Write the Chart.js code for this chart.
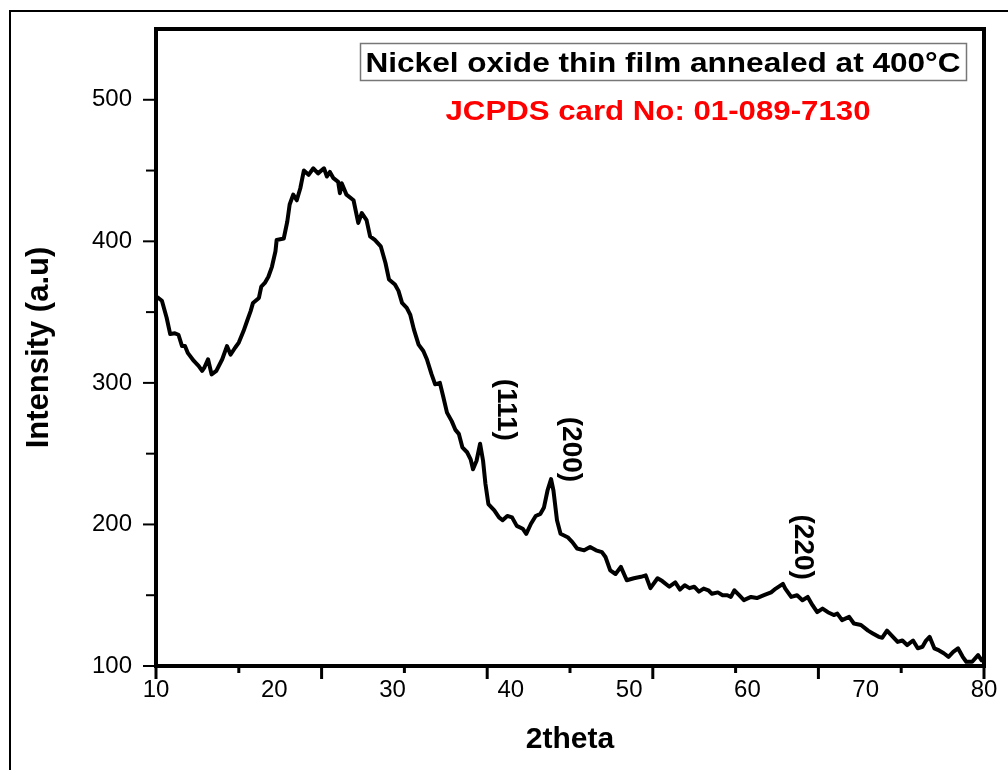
<!DOCTYPE html>
<html>
<head>
<meta charset="utf-8">
<title>Nickel oxide thin film XRD</title>
<script src="https://cdn.jsdelivr.net/npm/chart.js@4.4.1/dist/chart.umd.min.js"></script>
<style>
  html, body { margin: 0; padding: 0; background: #fff; }
  #wrap { width: 1008px; height: 770px; }
</style>
</head>
<body>
<div id="wrap"><canvas id="xrdChart" width="1008" height="770"></canvas></div>
<script>
// XRD pattern
const twoTheta = [
  10.0, 10.2, 10.5, 10.9, 11.2, 11.6, 11.9, 12.2, 12.45, 12.7, 13.2, 13.6, 13.9, 14.1, 14.4, 14.7,
  15.1, 15.6, 16.0, 16.3, 16.7, 17.0, 17.4, 17.7, 18.0, 18.2, 18.7, 18.9, 19.2, 19.5, 19.8, 20.1,
  20.2, 20.8, 21.1, 21.3, 21.6, 21.9, 22.2, 22.5, 22.9, 23.3, 23.7, 24.2, 24.45, 24.7, 25.0, 25.4,
  25.55, 25.7, 26.1, 26.7, 27.1, 27.4, 27.8, 28.1, 28.5, 29.0, 29.4, 29.7, 30.2, 30.5, 30.8, 31.2,
  31.5, 31.8, 32.2, 32.6, 32.9, 33.3, 33.6, 34.0, 34.3, 34.6, 35.0, 35.3, 35.6, 35.9, 36.3, 36.6,
  36.8, 37.1, 37.4, 37.65, 37.85, 38.1, 38.6, 39.0, 39.3, 39.7, 40.1, 40.5, 41.0, 41.3, 41.7, 42.1,
  42.5, 42.8, 43.1, 43.4, 43.6, 43.9, 44.2, 44.8, 45.2, 45.6, 46.2, 46.7, 47.2, 47.7, 48.0, 48.4,
  48.85, 49.3, 49.8, 50.4, 51.0, 51.4, 51.8, 52.4, 52.8, 53.4, 53.9, 54.3, 54.7, 55.1, 55.5, 55.9,
  56.3, 56.7, 57.0, 57.5, 57.9, 58.3, 58.6, 58.9, 59.3, 59.7, 60.3, 60.8, 61.4, 62.0, 62.4, 63.0,
  63.2, 63.7, 64.2, 64.65, 65.1, 65.5, 65.9, 66.35, 66.8, 67.3, 67.6, 68.0, 68.6, 69.0, 69.6, 70.2,
  70.6, 71.1, 71.4, 71.8, 72.3, 72.7, 73.1, 73.5, 74.0, 74.4, 74.8, 75.1, 75.4, 75.8, 76.2, 76.6,
  77.0, 77.4, 77.8, 78.2, 78.5, 79.0, 79.5, 79.8, 80.0
]
const intensity = [
  361, 360, 358, 346, 334.5, 335, 334, 326, 326, 321, 315.5, 312, 308.5, 311, 316.7, 306,
  308.5, 316.7, 326, 320, 325, 328.5, 336.6, 343.7, 350.7, 356.5, 360, 368, 370.6, 375, 382, 393,
  401, 402, 414, 426, 433, 429, 437.5, 450, 447, 451.6, 448, 451.6, 445.8, 449, 444.6, 442,
  434, 441, 433, 429, 413, 420, 415, 403.5, 401, 396.5, 384.7, 373, 369.5, 365, 356.5, 353,
  348, 337.8, 327, 322.5, 316.7, 306, 299, 300, 289.7, 279, 273, 267, 264, 254.5, 251, 246,
  239, 245, 257, 245, 228.7, 214.4, 210, 205, 203, 206, 205, 199, 197, 193.4, 200.5, 206,
  207.5, 212, 224, 232, 224, 203, 193.4, 191, 187.5, 183, 181.7, 184, 181.7, 180.5, 177, 167.6,
  165, 170, 160.6, 162, 163, 164, 155, 162, 160, 156, 159, 154, 157, 155, 156, 152.5,
  154.7, 153.5, 151, 152, 150, 150, 148.8, 153.5, 150, 146.5, 148.8, 148, 150, 152, 154.7, 158,
  154.7, 148.8, 150, 146.5, 148.8, 143, 138, 140.6, 138, 136, 137, 132.4, 134.7, 130, 129, 125,
  123, 120.6, 120, 125, 120.6, 117, 118, 114.8, 118, 112.5, 113.6, 118, 120.6, 112.5, 111, 109,
  106.5, 110, 112.5, 106.5, 103, 103, 107.7, 104, 106
]

// axis ticks
const xTickLabels = [10, 20, 30, 40, 50, 60, 70, 80]
const xTickMarks = [10, 17, 24, 31, 38, 45, 52, 59, 66, 73, 80]
const xMajorMarks = [10, 24, 38, 52, 66, 80]
const yTickLabels = [100, 200, 300, 400, 500]
const yTickMarks = [100, 150, 200, 250, 300, 350, 400, 450, 500]

// peak labels (hkl) and where they sit, in data units
const peakNames = ["(111)", "(200)", "(220)"]
const peakAtX = [39.6, 45.1, 64.7]
const peakAtY = [281, 253, 184]

const legendText = "Nickel oxide thin film annealed at 400°C"
const cardText = "JCPDS card No: 01-089-7130"

const FONT = '"Liberation Sans", Arial, sans-serif'

// extras Origin draws that Chart.js doesn't: frame, odd tick marks, labels
const decor = {
  id: "decor",
  beforeDraw(chart) {
    const { ctx, width, height } = chart
    ctx.save()
    ctx.fillStyle = "#fff"
    ctx.fillRect(0, 0, width, height)
    // outer border of the figure
    ctx.strokeStyle = "#000"
    ctx.lineWidth = 2
    ctx.beginPath()
    ctx.moveTo(10, height)
    ctx.lineTo(10, 11)
    ctx.lineTo(width, 11)
    ctx.stroke()
    ctx.restore()
  },
  afterDatasetsDraw(chart) {
    const { ctx, chartArea: a } = chart
    const x = chart.scales.x
    const y = chart.scales.y
    ctx.save()
    ctx.strokeStyle = "#000"
    ctx.lineCap = "butt"

    // x tick marks (every 7 units, not at the labels)
    ctx.lineWidth = 3
    xTickMarks.forEach((v) => {
      const px = x.getPixelForValue(v)
      const len = xMajorMarks.includes(v) ? 13 : 7
      ctx.beginPath()
      ctx.moveTo(px, a.bottom)
      ctx.lineTo(px, a.bottom + len)
      ctx.stroke()
    })

    // y tick marks
    ctx.lineWidth = 2
    yTickMarks.forEach((v) => {
      const py = y.getPixelForValue(v)
      const len = v % 100 === 0 ? 13 : 10
      ctx.beginPath()
      ctx.moveTo(a.left - len, py)
      ctx.lineTo(a.left, py)
      ctx.stroke()
    })

    // plot frame
    ctx.lineWidth = 4
    ctx.strokeRect(a.left, a.top, a.right - a.left, a.bottom - a.top)

    // hkl labels, rotated
    ctx.fillStyle = "#000"
    ctx.font = "bold 28px " + FONT
    ctx.textAlign = "center"
    ctx.textBaseline = "middle"
    peakNames.forEach((name, i) => {
      ctx.save()
      ctx.translate(x.getPixelForValue(peakAtX[i]), y.getPixelForValue(peakAtY[i]))
      ctx.rotate(Math.PI / 2)
      ctx.fillText(name, 0, 0)
      ctx.restore()
    })

    // legend box
    ctx.strokeStyle = "#777"
    ctx.lineWidth = 1.5
    ctx.strokeRect(360.5, 43.5, 606, 37)
    drawStretched(ctx, legendText, "bold 27px " + FONT, "#000", 663, 72, 595)

    // card number
    drawStretched(ctx, cardText, "bold 27px " + FONT, "#f00", 658, 120, 425)
    ctx.restore()
  },
}

// Origin's bold text is wider than Arial, so stretch to the width it has
function drawStretched(ctx, text, font, color, cx, baseline, width) {
  ctx.save()
  ctx.font = font
  ctx.fillStyle = color
  ctx.textAlign = "center"
  ctx.textBaseline = "alphabetic"
  const sx = width / ctx.measureText(text).width
  ctx.translate(cx, baseline)
  ctx.scale(sx, 1)
  ctx.fillText(text, 0, 0)
  ctx.restore()
}

const chartCtx = document.getElementById("xrdChart")
new Chart(chartCtx, {
  type: "line",
  data: {
    datasets: [
      {
        data: twoTheta.map((t, i) => ({ x: t, y: intensity[i] })),
        borderColor: "#000",
        borderWidth: 4,
        borderJoinStyle: "round",
        pointRadius: 0,
        tension: 0,
        fill: false,
      },
    ],
  },
  options: {
    responsive: false,
    animation: false,
    devicePixelRatio: 1,
    layout: { padding: { top: 29, right: 24, left: 0, bottom: 0 } },
    plugins: {
      legend: { display: false },
      tooltip: { enabled: false },
    },
    scales: {
      x: {
        type: "linear",
        min: 10,
        max: 80,
        grid: { display: false, drawTicks: false },
        border: { display: false },
        afterBuildTicks: (s) => {
          s.ticks = xTickLabels.map((v) => ({ value: v }))
        },
        afterFit: (s) => {
          s.height = 104
          s.paddingLeft = 0
          s.paddingRight = 0
        },
        ticks: {
          padding: 10,
          color: "#000",
          autoSkip: false,
          maxRotation: 0,
          font: { family: FONT, size: 24 },
        },
        title: {
          display: true,
          text: "2theta",
          color: "#000",
          font: { family: FONT, size: 30, weight: "bold" },
          padding: { top: 0, bottom: 12 },
        },
      },
      y: {
        type: "linear",
        min: 100,
        max: 550,
        grid: { display: false, drawTicks: false },
        border: { display: false },
        afterBuildTicks: (s) => {
          s.ticks = yTickLabels.map((v) => ({ value: v }))
        },
        afterFit: (s) => {
          s.width = 156
          s.paddingTop = 0
          s.paddingBottom = 0
        },
        ticks: {
          padding: 24,
          color: "#000",
          autoSkip: false,
          font: { family: FONT, size: 24 },
        },
        title: {
          display: true,
          text: "Intensity (a.u)",
          color: "#000",
          font: { family: FONT, size: 31, weight: "bold" },
          padding: { top: 21, bottom: 0 },
        },
      },
    },
  },
  plugins: [decor],
})
</script>
</body>
</html>
